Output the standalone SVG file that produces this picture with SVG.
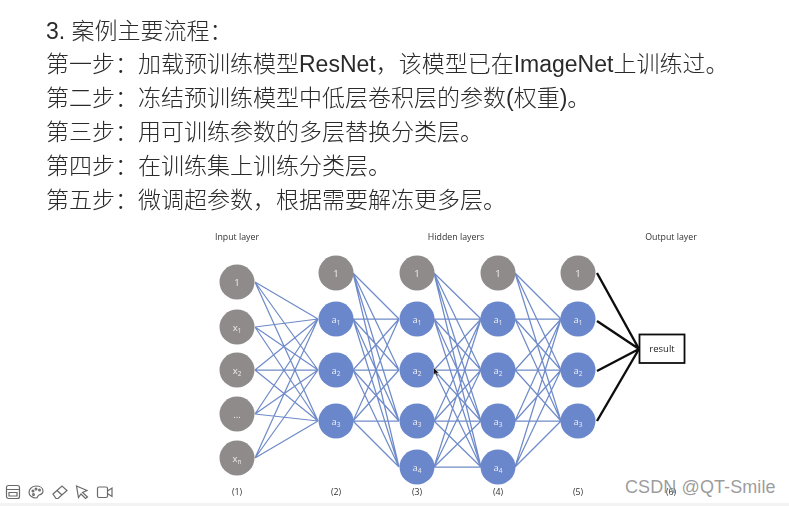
<svg xmlns="http://www.w3.org/2000/svg" width="789" height="506" viewBox="0 0 789 506">
<style>
.h{font-family:"Liberation Sans","Noto Sans CJK SC",sans-serif;font-size:23px;font-weight:300;fill:#2a2a2a}
.s{font-family:"Open Sans","Liberation Sans",sans-serif;font-size:8.8px;fill:#333;text-anchor:middle}
.n{font-family:"Open Sans","Liberation Sans",sans-serif;font-size:9.5px;fill:#eee;text-anchor:middle}
.g{fill:#8f8b8a}.b{fill:#6b87cc}
.sub{font-size:6.5px}
.ic{fill:none;stroke:#6a6a6a;stroke-width:1.2}
</style>
<defs>
<filter id="soft" x="-5%" y="-5%" width="110%" height="110%"><feGaussianBlur stdDeviation="0.45"/></filter>
<circle id="c" r="17.5"/>
</defs>
<rect width="789" height="506" fill="#fff"/>
<rect y="503" width="789" height="3" fill="#f3f3f3"/>
<g filter="url(#soft)">
<text class="h" x="46" y="39">3. 案例主要流程：</text>
<text class="h" x="46" y="72">第一步：加载预训练模型ResNet，该模型已在ImageNet上训练过。</text>
<text class="h" x="46" y="106">第二步：冻结预训练模型中低层卷积层的参数(权重)。</text>
<text class="h" x="46" y="140">第三步：用可训练参数的多层替换分类层。</text>
<text class="h" x="46" y="174">第四步：在训练集上训练分类层。</text>
<text class="h" x="46" y="208">第五步：微调超参数，根据需要解冻更多层。</text>
</g>
<g filter="url(#soft)">
<g id="connectors">
<path fill="none" stroke="#6f8bc9" stroke-width="1.25" d="
M255 282L318 319M255 282L318 370M255 282L318 421
M255 327L318 319M255 327L318 370M255 327L318 421
M255 370L318 319M255 370L318 370M255 370L318 421
M255 414L318 319M255 414L318 370M255 414L318 421
M255 458L318 319M255 458L318 370M255 458L318 421
M353 273L399 319M353 273L399 370M353 273L399 421M353 273L399 467
M353 319L399 319M353 319L399 370M353 319L399 421M353 319L399 467
M353 370L399 319M353 370L399 370M353 370L399 421M353 370L399 467
M353 421L399 319M353 421L399 370M353 421L399 421M353 421L399 467
M434 273L481 319M434 273L481 370M434 273L481 421M434 273L481 467
M434 319L481 319M434 319L481 370M434 319L481 421M434 319L481 467
M434 370L481 319M434 370L481 370M434 370L481 421M434 370L481 467
M434 421L481 319M434 421L481 370M434 421L481 421M434 421L481 467
M434 467L481 319M434 467L481 370M434 467L481 421M434 467L481 467
M515 273L561 319M515 273L561 370M515 273L561 421
M515 319L561 319M515 319L561 370M515 319L561 421
M515 370L561 319M515 370L561 370M515 370L561 421
M515 421L561 319M515 421L561 370M515 421L561 421
M515 467L561 319M515 467L561 370M515 467L561 421"/>
<path fill="none" stroke="#111" stroke-width="2.4" d="M597 273L639 349M597 321L639 349M597 371L639 349M597 421L639 349"/>
</g>
<g id="col1-1"><use href="#c" x="237" y="282" class="g"/><text class="n" x="237" y="286">1</text></g>
<g id="col1-x1"><use href="#c" x="237" y="327" class="g"/><text class="n" x="237" y="331">x<tspan class="sub" dy="2">1</tspan></text></g>
<g id="col1-x2"><use href="#c" x="237" y="370" class="g"/><text class="n" x="237" y="374">x<tspan class="sub" dy="2">2</tspan></text></g>
<g id="col1-dots"><use href="#c" x="237" y="414" class="g"/><text class="n" x="237" y="418">...</text></g>
<g id="col1-xn"><use href="#c" x="237" y="458" class="g"/><text class="n" x="237" y="462">x<tspan class="sub" dy="2">n</tspan></text></g>
<g id="col2-1"><use href="#c" x="336" y="273" class="g"/><text class="n" x="336" y="277">1</text></g>
<g id="col2-a1"><use href="#c" x="336" y="319" class="b"/><text class="n" x="336" y="323">a<tspan class="sub" dy="2">1</tspan></text></g>
<g id="col2-a2"><use href="#c" x="336" y="370" class="b"/><text class="n" x="336" y="374">a<tspan class="sub" dy="2">2</tspan></text></g>
<g id="col2-a3"><use href="#c" x="336" y="421" class="b"/><text class="n" x="336" y="425">a<tspan class="sub" dy="2">3</tspan></text></g>
<g id="col3-1"><use href="#c" x="417" y="273" class="g"/><text class="n" x="417" y="277">1</text></g>
<g id="col3-a1"><use href="#c" x="417" y="319" class="b"/><text class="n" x="417" y="323">a<tspan class="sub" dy="2">1</tspan></text></g>
<g id="col3-a2"><use href="#c" x="417" y="370" class="b"/><text class="n" x="417" y="374">a<tspan class="sub" dy="2">2</tspan></text></g>
<g id="col3-a3"><use href="#c" x="417" y="421" class="b"/><text class="n" x="417" y="425">a<tspan class="sub" dy="2">3</tspan></text></g>
<g id="col3-a4"><use href="#c" x="417" y="467" class="b"/><text class="n" x="417" y="471">a<tspan class="sub" dy="2">4</tspan></text></g>
<g id="col4-1"><use href="#c" x="498" y="273" class="g"/><text class="n" x="498" y="277">1</text></g>
<g id="col4-a1"><use href="#c" x="498" y="319" class="b"/><text class="n" x="498" y="323">a<tspan class="sub" dy="2">1</tspan></text></g>
<g id="col4-a2"><use href="#c" x="498" y="370" class="b"/><text class="n" x="498" y="374">a<tspan class="sub" dy="2">2</tspan></text></g>
<g id="col4-a3"><use href="#c" x="498" y="421" class="b"/><text class="n" x="498" y="425">a<tspan class="sub" dy="2">3</tspan></text></g>
<g id="col4-a4"><use href="#c" x="498" y="467" class="b"/><text class="n" x="498" y="471">a<tspan class="sub" dy="2">4</tspan></text></g>
<g id="col5-1"><use href="#c" x="578" y="273" class="g"/><text class="n" x="578" y="277">1</text></g>
<g id="col5-a1"><use href="#c" x="578" y="319" class="b"/><text class="n" x="578" y="323">a<tspan class="sub" dy="2">1</tspan></text></g>
<g id="col5-a2"><use href="#c" x="578" y="370" class="b"/><text class="n" x="578" y="374">a<tspan class="sub" dy="2">2</tspan></text></g>
<g id="col5-a3"><use href="#c" x="578" y="421" class="b"/><text class="n" x="578" y="425">a<tspan class="sub" dy="2">3</tspan></text></g>
<g id="result"><rect x="639.5" y="334.5" width="45" height="28.5" fill="#fff" stroke="#111" stroke-width="1.8"/><text x="662" y="352" font-family="'Open Sans','Liberation Sans',sans-serif" font-size="9.5" fill="#222" text-anchor="middle">result</text></g>
<text class="s" x="237" y="240">Input layer</text>
<text class="s" x="456" y="240">Hidden layers</text>
<text class="s" x="671" y="240">Output layer</text>
<text class="s" x="237" y="495">(1)</text>
<text class="s" x="336" y="495">(2)</text>
<text class="s" x="417" y="495">(3)</text>
<text class="s" x="498" y="495">(4)</text>
<text class="s" x="578" y="495">(5)</text>
<text class="s" x="671" y="495">(6)</text>
<path d="M433.5 367.5V375L435.3 373.4L436.8 376.5L438 376L436.6 372.9H439Z" fill="#111" stroke="#fff" stroke-width=".4"/>
</g>
<text x="625" y="493" font-family="'Liberation Sans',sans-serif" font-size="18" letter-spacing="0.1" fill="#8a8a8a" fill-opacity=".85">CSDN @QT-Smile</text>
<g class="ic" filter="url(#soft)">
<rect x="6.5" y="485.5" width="13" height="13" rx="2"/><path d="M6.5 489.5H19.5M9 492.5H17V496H9Z"/>
<path d="M36 486C31 486 29 490 29 492.500C29 496 33 498 36 498C38 498 37.500 495.500 39 495C41 494.500 43 494 43 491C43 488 40 486 36 486Z"/>
<circle cx="33" cy="491" r=".9"/><circle cx="36" cy="489" r=".9"/><circle cx="39.500" cy="490" r=".9"/><circle cx="33.500" cy="494.500" r=".9"/>
<path d="M53 494L62 486L67 490.500L58 498.500H56ZM57 490.500L62 495"/>
<path d="M76.500 486L87 490.500L82.500 492.500L87.500 497L85.500 498.500L81 494L78.500 497.500Z"/>
<rect x="97.500" y="487" width="10" height="10.500" rx="1.500"/><path d="M107.500 491L112 488V496.500L107.500 493.500"/>
</g>
</svg>
